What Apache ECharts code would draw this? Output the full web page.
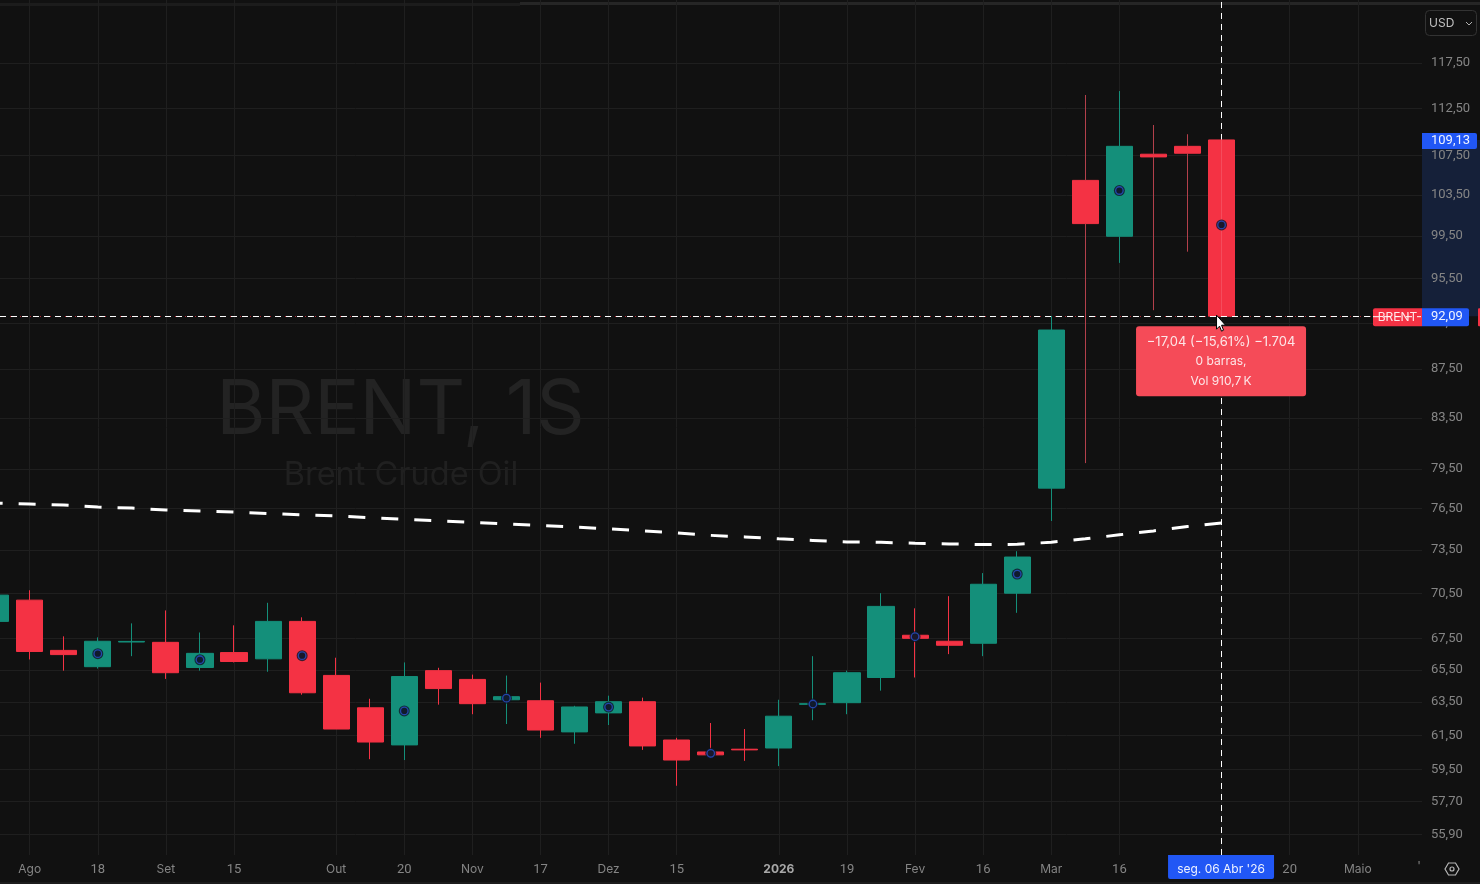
<!DOCTYPE html>
<html><head><meta charset="utf-8">
<style>html,body{margin:0;padding:0;background:#111;overflow:hidden}#c{width:1480px;height:884px}</style>
<script src="https://cdn.jsdelivr.net/npm/echarts@6/dist/echarts.min.js"></script>
</head><body><div id="c"></div>
<script>
const weeks=['2025-07-28','2025-08-04','2025-08-11','2025-08-18','2025-08-25','2025-09-01','2025-09-08','2025-09-15','2025-09-22','2025-09-29','2025-10-06','2025-10-13','2025-10-20','2025-10-27','2025-11-03','2025-11-10','2025-11-17','2025-11-24','2025-12-01','2025-12-08','2025-12-15','2025-12-22','2025-12-29','2026-01-05','2026-01-12','2026-01-19','2026-01-26','2026-02-02','2026-02-09','2026-02-16','2026-02-23','2026-03-02','2026-03-09','2026-03-16','2026-03-23','2026-03-30','2026-04-06'];
const opens=[68.63,70.05,66.74,65.7,67.28,67.26,65.65,66.6,66.2,68.63,65.15,63.15,60.93,65.45,64.9,63.64,63.58,61.7,62.84,63.52,61.22,60.52,60.68,60.75,63.36,63.46,65.02,67.72,67.33,67.2,70.52,78.03,104.96,99.46,107.64,108.46,109.13];
const closes=[70.39,66.67,66.47,67.33,67.32,65.32,66.55,66.03,68.63,64.07,61.87,61.1,65.08,64.33,63.4,63.83,61.81,63.2,63.52,60.87,60.05,60.35,60.64,62.64,63.4,65.32,69.63,67.52,67.07,71.13,73.02,90.87,100.68,108.46,107.36,107.74,92.09];
const lows=[68.63,66.16,65.45,65.58,66.37,64.93,65.45,65.97,65.38,63.95,61.87,60.1,60.05,63.34,62.76,62.17,61.35,61,62.11,60.64,58.58,60.2,60,59.7,62.4,62.76,64.2,65.02,66.5,66.37,69.2,75.6,79.94,96.94,92.63,98.02,92.09];
const highs=[70.39,70.72,67.65,67.58,68.5,69.36,67.9,68.37,69.87,68.9,66.27,63.7,65.97,65.63,65.2,65.14,64.7,63.27,63.89,63.77,61.35,62.23,61.87,63.64,66.37,65.45,70.52,69.5,70.32,71.9,73.43,92.1,113.95,114.39,110.7,109.7,109.13];
const maValues=[76.92,76.85,76.77,76.62,76.55,76.4,76.33,76.26,76.15,76.04,75.97,75.83,75.72,75.61,75.5,75.39,75.28,75.17,75.03,74.88,74.74,74.56,74.45,74.31,74.2,74.09,74.06,74,73.95,73.9,73.92,74.07,74.31,74.6,74.88,75.2,75.46];
const markerDates=['2025-07-28','2025-08-18','2025-09-08','2025-09-29','2025-10-20','2025-11-10','2025-12-01','2025-12-22','2026-01-12','2026-02-02','2026-02-23','2026-03-16','2026-04-06'];
const markerValues=[69.47,66.53,66.14,66.4,62.96,63.74,63.19,60.44,63.38,67.63,71.83,103.94,100.55];
const dimWickDates=['2026-03-09','2026-03-23','2026-03-30'];
const yTicks=[55.9,57.7,59.5,61.5,63.5,65.5,67.5,70.5,73.5,76.5,79.5,83.5,87.5,91.5,95.5,99.5,103.5,107.5,112.5,117.5];
const xTickDates=['2025-08-04','2025-08-18','2025-09-01','2025-09-15','2025-10-06','2025-10-20','2025-11-03','2025-11-17','2025-12-01','2025-12-15','2026-01-05','2026-01-19','2026-02-02','2026-02-16','2026-03-02','2026-03-16','2026-04-20','2026-05-04'];
const xTickLabels=['Ago','18','Set','15','Out','20','Nov','17','Dez','15','2026','19','Fev','16','Mar','16','20','Maio'];
const lineDates=xTickDates.concat(['2026-04-06']);
const priceHigh=109.13, priceLow=92.09, cursorDate='2026-04-06';
const fmt=v=>v.toFixed(2).replace('.',',');
const T=d=>new Date(d+'T00:00:00').getTime();
const labelFor={};
xTickDates.forEach((d,i)=>{labelFor[T(d)]=xTickLabels[i];});
const RED='#f43244',GREEN='#148f7a',BLUE='#2157f5',UI='Inter, "Noto Sans", sans-serif',NUM='Roboto, Inter, sans-serif';
const chart=echarts.init(document.getElementById('c'),null,{renderer:'canvas'});
function txt(x,y,s,o){return {type:'text',x:x,y:y,silent:true,style:Object.assign({text:s,font:'12px '+UI,fill:'#fff',align:'center',verticalAlign:'middle'},o||{})};}
const dimWicks=dimWickDates.map(d=>{const i=weeks.indexOf(d);return [T(d),lows[i],Math.min(opens[i],closes[i]),Math.max(opens[i],closes[i]),highs[i]];});
chart.setOption({
 backgroundColor:'#111111',animation:false,
 grid:{left:0,top:0,width:1422,height:855,containLabel:false},
 tooltip:{show:false},
 xAxis:{type:'value',scale:true,min:T('2025-07-28')+77400000,max:T('2026-05-17')+17900000,
  axisLine:{show:false},axisTick:{show:false,customValues:lineDates.map(T)},
  splitLine:{show:true,lineStyle:{color:'#1f1f1f',width:1}},
  axisLabel:{show:true,customValues:xTickDates.map(T),margin:8,hideOverlap:false,showMinLabel:true,showMaxLabel:true,
   fontFamily:UI,fontSize:12,color:'#858585',
   formatter:v=>{const s=labelFor[v]||'';return s==='2026'?'{b|2026}':(/^\d+$/.test(s)?'{n|'+s+'}':s);},
   rich:{b:{fontWeight:'bold',color:'#a8a8a8',fontFamily:UI,fontSize:12},n:{fontFamily:NUM,fontSize:13,color:'#858585'}}}},
 yAxis:{type:'log',logBase:Math.E,position:'right',min:54.8,max:124.88,
  axisLine:{show:false},axisTick:{show:false,customValues:yTicks},
  splitLine:{show:true,lineStyle:{color:'#1f1f1f',width:1}},minorSplitLine:{show:false},
  axisLabel:{show:true,customValues:yTicks,margin:9,align:'left',padding:[0,0,5,0],fontFamily:NUM,fontSize:13,color:'#858585',formatter:v=>fmt(+v)}},
 series:[
  {type:'custom',z:-1,silent:true,coordinateSystem:'cartesian2d',data:[[T(cursorDate),priceHigh,priceLow]],
   renderItem:(p,api)=>{const a=api.coord([api.value(0),api.value(1)]),b=api.coord([api.value(0),api.value(2)]);
    return {type:'rect',shape:{x:1422,y:a[1],width:58,height:b[1]-a[1]},style:{fill:'#152039'}};}},
  {type:'line',z:1,silent:true,showSymbol:false,data:[],
   markLine:{z:1,silent:true,symbol:'none',label:{show:false},lineStyle:{color:'#ffffff',type:[6,5],width:1},data:[{xAxis:T(cursorDate)}]}},
  {type:'candlestick',z:2,silent:true,barWidth:26.6,
   itemStyle:{color:GREEN,color0:RED,borderColor:GREEN,borderColor0:RED,borderWidth:1},
   data:weeks.map((d,i)=>[T(d),opens[i],closes[i],lows[i],highs[i]]),
   encode:{x:0,y:[1,2,3,4]}},
  {type:'custom',z:3,silent:true,coordinateSystem:'cartesian2d',data:dimWicks,
   renderItem:(p,api)=>{
    const t=api.value(0),x=Math.floor(api.coord([t,api.value(1)])[0])+.5,
      y=k=>api.coord([t,api.value(k)])[1],st={stroke:'#b3404b',lineWidth:1};
    return {type:'group',children:[
     {type:'line',shape:{x1:x,y1:y(1),x2:x,y2:y(2)},style:st},
     {type:'line',shape:{x1:x,y1:y(3),x2:x,y2:y(4)},style:st}]};}},
  {type:'custom',z:3,silent:true,coordinateSystem:'cartesian2d',data:[[T(cursorDate),priceHigh,priceLow]],
   renderItem:(p,api)=>{const a=api.coord([api.value(0),api.value(1)]),b=api.coord([api.value(0),api.value(2)]),x=Math.floor(a[0])+.5;
    return {type:'line',shape:{x1:x,y1:a[1],x2:x,y2:b[1]},style:{stroke:'rgba(255,255,255,0.13)',lineWidth:1}};}},
  {type:'line',z:3,silent:true,showSymbol:false,smooth:false,data:weeks.map((d,i)=>[T(d),maValues[i]]),
   lineStyle:{color:'#ffffff',width:3,type:[17,16],dashOffset:10}},
  {type:'scatter',z:4,silent:true,symbol:'circle',symbolSize:11,itemStyle:{color:'#0f1526'},data:markerDates.map((d,i)=>[T(d),markerValues[i]])},
  {type:'scatter',z:5,silent:true,symbol:'circle',symbolSize:7.5,itemStyle:{color:'#10172b',borderColor:'#2850cc',borderWidth:1.3},data:markerDates.map((d,i)=>[T(d),markerValues[i]])},
  {type:'line',z:6,silent:true,showSymbol:false,data:[],
   markLine:{z:6,silent:true,symbol:'none',label:{show:false},data:[
    {yAxis:priceLow,lineStyle:{color:RED,type:[1,4],width:1,opacity:.75}},
    {yAxis:priceLow,lineStyle:{color:'#ffffff',type:[6,5],width:1}}]}},
  {type:'custom',z:7,silent:true,coordinateSystem:'cartesian2d',clip:false,data:[[T(cursorDate),priceHigh,priceLow]],
   renderItem:(p,api)=>{
    const a=api.coord([api.value(0),api.value(1)]),b=api.coord([api.value(0),api.value(2)]);
    const cx=a[0],yh=a[1],yl=b[1];
    const nf='13px '+NUM;
    return {type:'group',children:[
     {type:'rect',shape:{x:1422,y:yh-7,width:55,height:16,r:[0,2,2,0]},style:{fill:BLUE}},
     txt(1431,yh+1,fmt(priceHigh),{align:'left',fill:'#f0f4ff',font:nf}),
     {type:'rect',shape:{x:1373,y:yl-8,width:49,height:18,r:[2,0,0,2]},style:{fill:RED}},
     txt(1397.5,yl+1,'BRENT',{fill:'#ffe9ea'}),
     {type:'line',shape:{x1:1373,y1:yl+.5,x2:1421,y2:yl+.5},style:{stroke:'#fff',lineWidth:1,lineDash:[6,5]}},
     {type:'rect',shape:{x:1478,y:yl-8,width:4,height:18,r:1},style:{fill:RED}},
     {type:'rect',shape:{x:1422,y:yl-8,width:47,height:18,r:[0,2,2,0]},style:{fill:BLUE}},
     txt(1431,yl+1,fmt(priceLow),{align:'left',fill:'#f0f4ff',font:nf}),
     {type:'rect',shape:{x:cx-85.5,y:yl+10,width:170,height:70,r:3},style:{fill:'#f54b58'}},
     txt(cx-.5,yl+25.5,'\u221217,04 (\u221215,61%) \u22121.704',{fill:'#fde6e8',font:'13px '+UI}),
     txt(cx-.5,yl+45.5,'0 barras,',{fill:'#fde6e8'}),
     txt(cx-.5,yl+65.5,'Vol 910,7\u2009K',{fill:'#fde6e8'}),
     {type:'rect',shape:{x:cx-53.5,y:855,width:106,height:24,r:[0,0,2,2]},style:{fill:BLUE}},
     txt(cx-.5,869,"seg. 06 Abr '26",{fill:'#eef2ff'}),
     {type:'polygon',shape:{points:[[cx-5,yl-1],[cx-5,yl+13],[cx-2,yl+10],[cx,yl+15],[cx+2,yl+14],[cx,yl+9],[cx+4,yl+9]]},style:{fill:'#ffffff',stroke:'#000',lineWidth:1}}
    ]};}}
 ],
 graphic:[
  {type:'rect',z:-2,silent:true,shape:{x:520,y:2,width:960,height:3},style:{fill:'#262626'}},
  {type:'rect',z:-2,silent:true,shape:{x:0,y:3,width:520,height:3},style:{fill:'#1c1c1c'}},
  {type:'text',z:-1,silent:true,x:400.5,y:411,style:{text:'BRENT, 1S',font:'75.5px '+UI,fill:'#232323',align:'center',verticalAlign:'middle'}},
  {type:'text',z:-1,silent:true,x:401,y:475,style:{text:'Brent Crude Oil',font:'32.5px '+UI,fill:'#202020',align:'center',verticalAlign:'middle'}},
  {type:'rect',silent:true,shape:{x:1425.5,y:10.5,width:51,height:25,r:4},style:{fill:'#111111',stroke:'#333333',lineWidth:1}},
  {type:'text',silent:true,x:1429,y:23,style:{text:'USD',font:'12px '+UI,fill:'#c0c0c0',align:'left',verticalAlign:'middle'}},
  {type:'polyline',silent:true,shape:{points:[[1466,22],[1469,25],[1472,22]]},style:{stroke:'#b0b0b0',fill:'none',lineWidth:1}},
  {type:'polygon',silent:true,shape:{points:[[1445,869],[1448.5,863],[1455.5,863],[1459,869],[1455.5,875],[1448.5,875]]},style:{fill:'none',stroke:'#b8b8b8',lineWidth:1.2}},
  {type:'circle',silent:true,shape:{cx:1452,cy:869,r:2},style:{fill:'none',stroke:'#b8b8b8',lineWidth:1.2}},
  {type:'text',silent:true,x:1419,y:866,style:{text:"'",font:'12px '+UI,fill:'#858585',align:'center',verticalAlign:'middle'}},
  {type:'rect',silent:true,shape:{x:0,y:882,width:1480,height:2},style:{fill:'#1c1c1c'}}
 ]
});
</script></body></html>
